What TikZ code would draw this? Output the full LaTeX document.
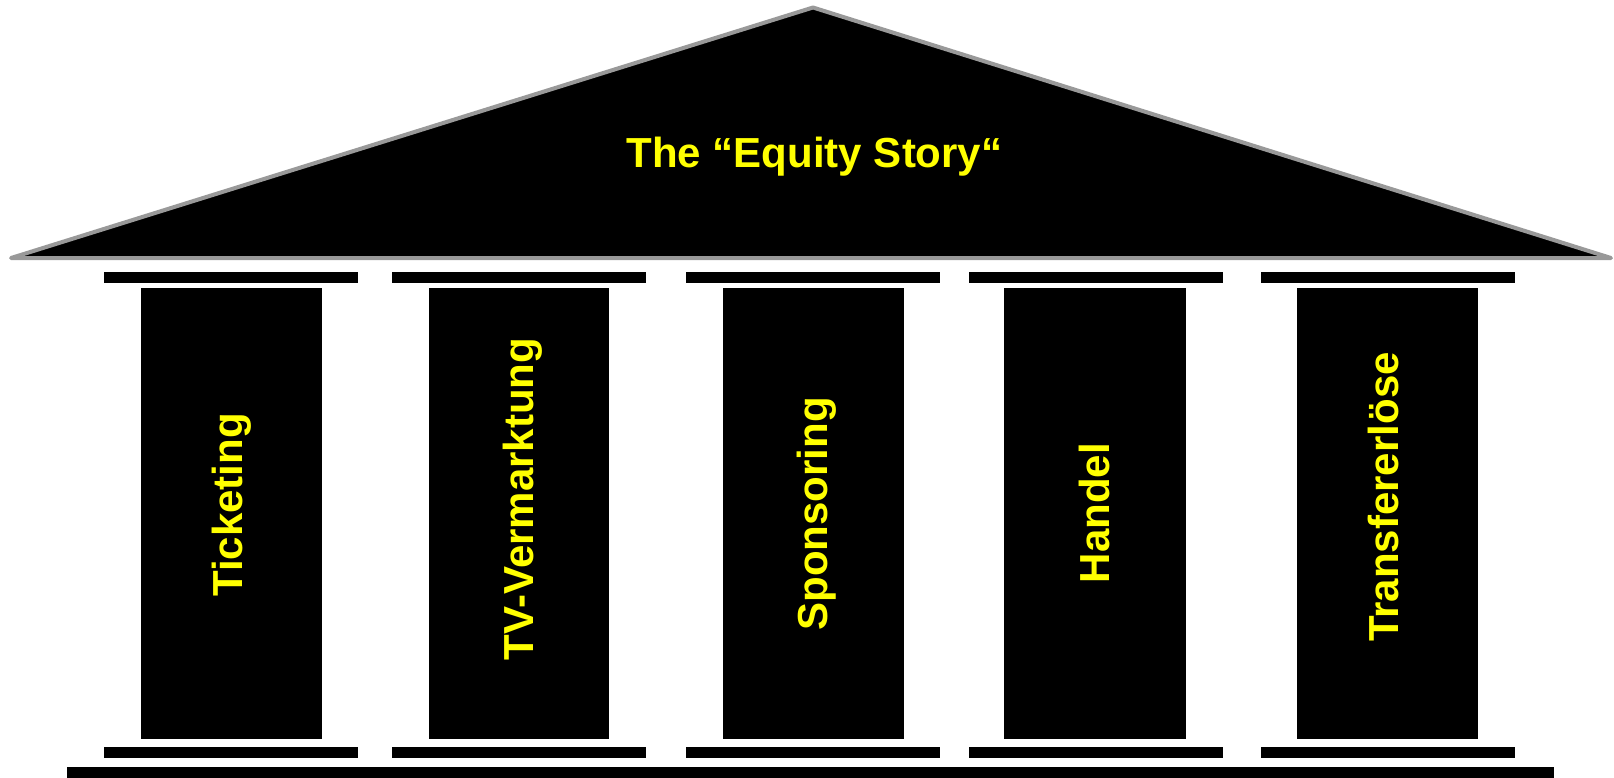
\documentclass[tikz,border=0pt]{standalone}
\usepackage{fontspec}
\setmainfont{Liberation Sans}
\definecolor{roofgray}{HTML}{999999}
\definecolor{signyellow}{HTML}{FFFF00}
\begin{document}
\begin{tikzpicture}[x=1pt,y=-1pt,
	roof/.style={fill=black,draw=roofgray,line width=4pt,line join=round},
	slab/.style={fill=black},
	pillar/.style={fill=black},
	title/.style={text=signyellow,inner sep=0pt,font=\bfseries\fontsize{42}{50}\selectfont},
	pillartext/.style={title,rotate=90,anchor=base}]

	\useasboundingbox (0,0) rectangle (1614,778);

	% roof
	\coordinate (lefttip) at (11,258);
	\coordinate (apex) at (813,7.5);
	\coordinate (righttip) at (1611,258);
	\draw[roof](lefttip) -- (apex) -- (righttip) -- cycle;
	\node[title,anchor=base] (story) at (814.5,168) {The “Equity Story“};

	% capitals
	\fill[slab] (104,272) rectangle (358,283);
	\fill[slab] (392,272) rectangle (646,283);
	\fill[slab] (686,272) rectangle (940,283);
	\fill[slab] (969,272) rectangle (1223,283);
	\fill[slab] (1261,272) rectangle (1515,283);

	% columns
	\fill[pillar] (141,288) rectangle (322,739);
	\fill[pillar] (429,288) rectangle (609,739);
	\fill[pillar] (723,288) rectangle (904,739);
	\fill[pillar] (1004,288) rectangle (1186,739);
	\fill[pillar] (1297,288) rectangle (1478,739);

	\node[pillartext] (ticketing) at (242,505) {Ticketing};
	\node[pillartext] (tv) at (533,499) {TV-Vermarktung};
	\node[pillartext] (sponsoring) at (827,514) {Sponsoring};
	\node[pillartext] (handel) at (1109,513) {Handel};
	\node[pillartext] (transfer) at (1398,497) {Transfererlöse};

	% plinths
	\fill[slab] (104,747) rectangle (358,758);
	\fill[slab] (392,747) rectangle (646,758);
	\fill[slab] (686,747) rectangle (940,758);
	\fill[slab] (969,747) rectangle (1223,758);
	\fill[slab] (1261,747) rectangle (1515,758);

	% base
	\fill[slab] (67,767) rectangle (1554,778);

\end{tikzpicture}
\end{document}
